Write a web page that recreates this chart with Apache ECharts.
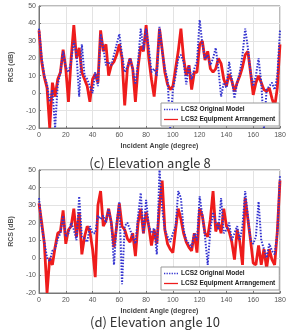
<!DOCTYPE html>
<html>
<head>
<meta charset="utf-8">
<script src="https://cdn.jsdelivr.net/npm/echarts@6/dist/echarts.min.js"></script>
<style>
  html, body { margin: 0; padding: 0; background: #fff; }
  #chart { width: 289px; height: 331px; }
</style>
</head>
<body>
<div id="chart"></div>
<script>
// incident angle, every 2 degrees
const angles = Array.from({ length: 91 }, (_, i) => i * 2);
const xTicks = [0, 20, 40, 60, 80, 100, 120, 140, 160, 180];
const yTicks = [-20, -10, 0, 10, 20, 30, 40, 50];

// (c) elevation angle 8
const origEl8 = [37, 20, 10, 5, -5, 2, -20, 5, 12, 24, 15, 12, 18, 30, 22, -2, 28, 10, 8, 4,
  0, 12, 4, 34, 26, 16, 18, 16, 22, 28, 34, 22, 12, 15, 20, 14, 5, 18, 37, 25,
  37, 26, 12, 14, 10, 38, 24, 14, 8, -20, 2, 10, 20, 22, 18, 5, 16, 8, 14, 18,
  42, 28, 20, 22, 16, 20, 26, 14, -2, 6, 3, 18, 8, -3, 6, 12, 22, 37, 26, 12,
  4, 10, 20, 6, -20, 2, 4, 6, 2, 10, 36];
const equipEl8 = [36, 18, 9, 3, -20, 6, -2, 8, 12, 25, 14, -5, 20, 39, 20, 26, 12, 8, 4, -5,
  8, 11, 6, 36, 24, 28, 10, 16, 18, 22, 28, 20, -7, 14, 20, 14, -5, 15, 27, 24,
  39, 20, 8, -2, 14, 37, 25, 12, 5, 2, 4, 14, 24, 37, 20, 10, 16, 2, 12, 12,
  28, 30, 19, 24, 14, 12, 14, 20, 17, 8, 4, 11, 7, 1, 6, 10, 15, 22, 24, 12,
  -1, 6, 10, 6, 2, 1, 3, -3, -8, 3, 28];

// (d) elevation angle 10
const origEl10 = [34, 18, 9, 0, -2, 4, 5, 11, 14, 24, 12, 14, 20, 16, 10, 35, 12, 11, 9, 18,
  14, 14, 24, 22, 24, 20, 28, 20, -4, 20, 32, -15, 18, 20, 16, 12, 8, 24, 37, 14,
  33, 18, 14, 17, 2, 50, 28, 16, 12, 9, 14, 18, 38, 34, 16, 10, 8, 6, 14, 10,
  35, 24, 12, -4, 16, 26, 20, 16, 34, 14, 16, 20, 10, 14, 18, 10, 18, 38, 24, 10,
  8, 12, 32, 10, 5, 0, 8, 4, 2, 14, 47];
const equipEl10 = [31, 20, 8, -20, 0, -4, 6, 14, 15, 27, 8, 16, 18, 28, 12, 26, 2, 12, 18, 15,
  5, -11, 30, 38, 18, 21, 28, 20, 6, 18, 31, 18, 16, 11, 9, 14, 1, 20, 28, 14,
  26, 18, 7, 16, 8, 30, 44, 16, 8, 5, 3, 16, 28, 22, 14, 9, 6, 4, 14, 3,
  28, 24, 14, 12, 22, 38, 15, 20, 14, 28, 18, 15, 9, -1, 16, 9, -4, 34, 22, 10,
  -3, -4, 7, -4, 5, -6, 5, -1, -4, 15, 44];

const seriesNames = ['LCS2 Original Model', 'LCS2 Equipment Arrangement'];
const blue = '#3434d0';
const red = '#ee1c1c';

const pairs = (vals) => angles.map((a, i) => [a, vals[i]]);

const chart = echarts.init(document.getElementById('chart'), null, { renderer: 'canvas' });

const grids = [
  { left: 19, top: 6, width: 261, height: 122 },
  { left: 19, top: 170, width: 261, height: 123 },
];

function xAxis(gi) {
  return {
    gridIndex: gi,
    type: 'value',
    min: 0,
    max: 180,
    interval: 20,
    name: 'Incident Angle (degree)',
    nameLocation: 'middle',
    nameGap: 15,
    nameTextStyle: { fontSize: 7, fontWeight: 'bold', color: '#444', fontFamily: 'Liberation Sans' },
    axisLine: { show: true, onZero: false, lineStyle: { color: '#777', width: 1 } },
    axisTick: { show: true, inside: true, length: 2, lineStyle: { color: '#777' } },
    axisLabel: { fontSize: 7, color: '#555', margin: 4, fontFamily: 'Liberation Sans' },
    splitLine: { show: true, lineStyle: { color: '#e3e3e3', width: 1 } },
  };
}

function yAxis(gi) {
  return {
    gridIndex: gi,
    type: 'value',
    min: -20,
    max: 50,
    interval: 10,
    name: 'RCS (dB)',
    nameLocation: 'middle',
    nameGap: 19,
    nameRotate: 90,
    nameTextStyle: { fontSize: 7, fontWeight: 'bold', color: '#555', fontFamily: 'Liberation Sans' },
    axisLine: { show: true, lineStyle: { color: '#777', width: 1 } },
    axisTick: { show: true, inside: true, length: 2, lineStyle: { color: '#777' } },
    axisLabel: { fontSize: 7, color: '#555', margin: 3, fontFamily: 'Liberation Sans' },
    splitLine: { show: true, lineStyle: { color: '#e3e3e3', width: 1 } },
  };
}

function makeSeries(gi, orig, equip) {
  return [
    {
      name: seriesNames[1],
      type: 'line',
      xAxisIndex: gi,
      yAxisIndex: gi,
      data: pairs(equip),
      showSymbol: false,
      symbol: 'none',
      lineStyle: { color: red, width: 2.8 },
      itemStyle: { color: red },
      z: 2,
    },
    {
      name: seriesNames[0],
      type: 'line',
      xAxisIndex: gi,
      yAxisIndex: gi,
      data: pairs(orig),
      showSymbol: false,
      symbol: 'none',
      lineStyle: { color: blue, width: 2, type: [1.5, 1.5], cap: 'butt' },
      itemStyle: { color: blue },
      z: 3,
    },
  ];
}

const dottedIcon = 'path://M0,0h2v2h-2z M4,0h2v2h-2z M8,0h2v2h-2z M12,0h2v2h-2z M16,0h2v2h-2z M20,0h2v2h-2z';
const solidIcon = 'path://M0,0 L22,0 L22,2 L0,2 Z';

function legend(top) {
  return {
    orient: 'vertical',
    left: 161,
    top: top,
    data: [
      { name: seriesNames[0], icon: dottedIcon },
      { name: seriesNames[1], icon: solidIcon },
    ],
    itemWidth: 14,
    itemHeight: 2,
    itemGap: 3,
    padding: [3, 4, 3, 3],
    backgroundColor: '#fff',
    borderColor: '#999',
    borderWidth: 1,
    borderRadius: 0,
    textStyle: { fontSize: 6.5, fontWeight: 'bold', color: '#222', fontFamily: 'Liberation Sans', padding: [0, 0, 0, -2] },
    selectedMode: false,
  };
}

chart.setOption({
  animation: false,
  backgroundColor: '#fff',
  title: [
    {
      text: '(c) Elevation angle 8',
      left: 145,
      top: 152,
      textAlign: 'center',
      textStyle: { fontSize: 13, fontWeight: 'normal', color: '#333', fontFamily: 'Noto Sans CJK KR' },
    },
    {
      text: '(d) Elevation angle 10',
      left: 150,
      top: 311,
      textAlign: 'center',
      textStyle: { fontSize: 13, fontWeight: 'normal', color: '#333', fontFamily: 'Noto Sans CJK KR' },
    },
  ],
  grid: grids.map((g) => ({ ...g, show: true, borderColor: '#777', borderWidth: 1, backgroundColor: '#fff' })),
  xAxis: [xAxis(0), xAxis(1)],
  yAxis: [yAxis(0), yAxis(1)],
  legend: [legend(103), legend(267)],
  series: [...makeSeries(0, origEl8, equipEl8), ...makeSeries(1, origEl10, equipEl10)],
});
</script>
</body>
</html>
